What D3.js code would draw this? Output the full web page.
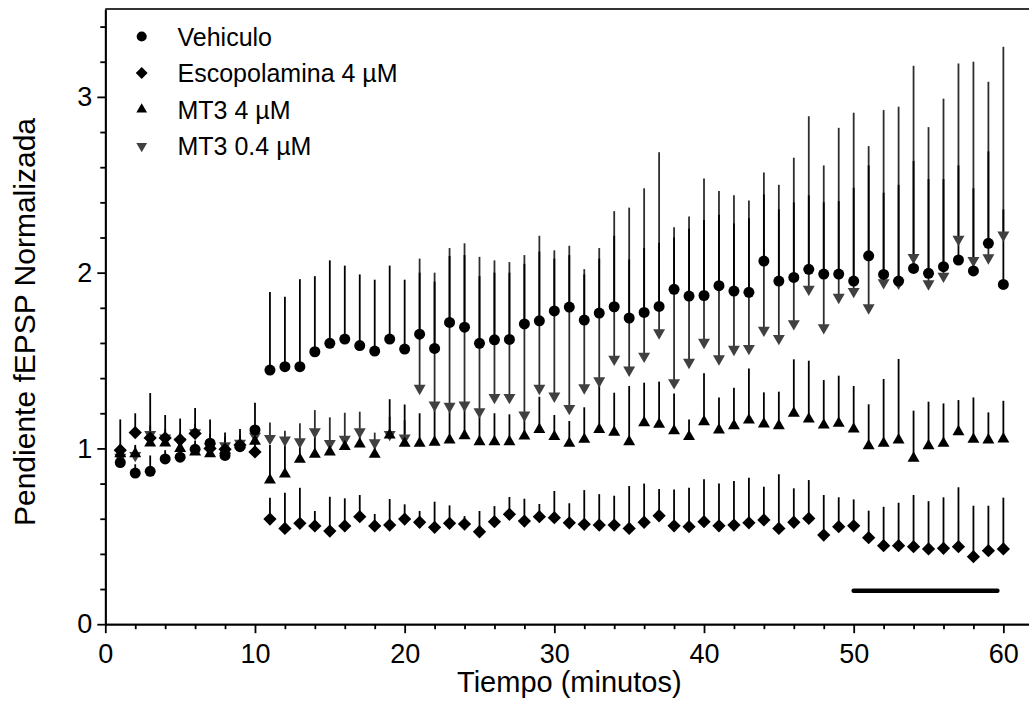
<!DOCTYPE html>
<html>
<head>
<meta charset="utf-8">
<script src="https://cdn.jsdelivr.net/npm/d3@7"></script>
<style>
	body { margin: 0; background: #fff; }
	svg { display: block; font-family: "Liberation Sans", Arial, sans-serif; }
</style>
</head>
<body>
<div id="chart"></div>
<script>

// minutes
let tiempo = [1,2,3,4,5,6,7,8,9,10,11,12,13,14,15,16,17,18,19,20,
	21,22,23,24,25,26,27,28,29,30,31,32,33,34,35,36,37,38,39,40,
	41,42,43,44,45,46,47,48,49,50,51,52,53,54,55,56,57,58,59,60];

let vehiculo = [0.92,0.86,0.87,0.94,0.95,0.995,1.03,0.96,1.01,1.105,
	1.446,1.465,1.465,1.55,1.598,1.622,1.585,1.554,1.622,1.565,
	1.65,1.569,1.717,1.69,1.598,1.618,1.62,1.708,1.726,1.782,
	1.804,1.73,1.77,1.806,1.742,1.774,1.808,1.905,1.867,1.87,
	1.926,1.895,1.888,2.066,1.952,1.973,2.019,1.992,1.992,1.952,
	2.096,1.99,1.952,2.024,1.996,2.034,2.072,2.01,2.167,1.933];
let vehiculoSem = [0.05,0.05,0.09,0.05,0.05,0.05,0.05,0.04,0.04,0.155,
	0.444,0.398,0.498,0.43,0.472,0.418,0.405,0.406,0.418,0.395,
	0.35,0.38,0.378,0.41,0.382,0.382,0.38,0.342,0.394,0.298,
	0.296,0.26,0.31,0.404,0.333,0.366,0.362,0.295,0.383,0.43,
	0.404,0.385,0.422,0.379,0.408,0.427,0.421,0.408,0.415,0.531,
	0.514,0.465,0.548,0.611,0.536,0.498,0.538,0.47,0.523,0.427];

let escopolamina = [0.99,1.09,1.06,1.06,1.05,1.085,1.0,0.995,1.02,0.98,
	0.598,0.545,0.574,0.559,0.53,0.559,0.612,0.559,0.564,0.598,
	0.58,0.551,0.574,0.57,0.526,0.583,0.625,0.587,0.612,0.606,
	0.577,0.568,0.564,0.564,0.545,0.58,0.617,0.56,0.555,0.583,
	0.56,0.564,0.577,0.593,0.545,0.58,0.602,0.507,0.555,0.56,
	0.492,0.447,0.447,0.441,0.428,0.432,0.441,0.384,0.418,0.428];
let escopolaminaSem = [0.175,0.11,0.255,0.13,0.12,0.145,0.165,0.095,0.09,0.1,
	0.122,0.203,0.202,0.085,0.195,0.157,0.123,0.068,0.148,0.084,
	0.064,0.146,0.102,0.045,0.118,0.089,0.099,0.127,0.072,0.152,
	0.111,0.195,0.176,0.167,0.241,0.22,0.152,0.207,0.221,0.241,
	0.24,0.251,0.256,0.189,0.308,0.193,0.218,0.228,0.167,0.15,
	0.154,0.221,0.244,0.294,0.272,0.29,0.338,0.29,0.256,0.292];

let mt3Alto = [0.97,0.97,1.03,1.03,1.0,0.98,0.97,0.99,1.02,1.04,
	0.82,0.854,0.938,0.966,0.98,1.01,1.025,0.966,1.076,1.029,
	1.029,1.035,1.048,1.072,1.038,1.038,1.038,1.07,1.108,1.067,
	1.029,1.052,1.108,1.092,1.038,1.146,1.137,1.10,1.067,1.152,
	1.105,1.129,1.161,1.139,1.129,1.20,1.167,1.133,1.143,1.11,
	1.015,1.029,1.048,0.944,1.015,1.029,1.095,1.052,1.048,1.054];
let mt3AltoSem = [0.05,0.05,0.05,0.05,0.05,0.05,0.05,0.05,0.05,0.05,
	0.2,0.18,0.1,0.13,0.05,0.05,0.07,0.07,0.204,0.221,
	0.171,0.205,0.172,0.168,0.162,0.162,0.156,0.11,0.186,0.123,
	0.127,0.182,0.262,0.225,0.317,0.228,0.243,0.213,0.098,0.275,
	0.185,0.216,0.294,0.18,0.194,0.307,0.332,0.256,0.271,0.245,
	0.236,0.366,0.461,0.271,0.251,0.227,0.18,0.238,0.157,0.217];

let mt3Bajo = [0.95,0.96,1.08,1.06,1.04,1.09,1.01,1.015,1.03,1.07,
	1.057,1.048,1.038,1.095,1.029,1.052,1.095,1.032,1.08,1.06,
	1.342,1.247,1.24,1.247,1.209,1.29,1.29,1.19,1.342,1.298,
	1.228,1.345,1.385,1.508,1.446,1.525,1.658,1.374,1.49,1.604,
	1.51,1.564,1.569,1.673,1.626,1.71,1.906,1.687,1.86,1.893,
	1.80,1.943,1.94,2.087,1.937,1.98,2.19,2.07,2.085,2.214];
let mt3BajoSem = [0.05,0.05,0.05,0.05,0.05,0.05,0.05,0.05,0.05,0.05,
	0.091,0.052,0.105,0.123,0.148,0.151,0.114,0.058,0.1,0.1,
	0.738,0.753,0.9,0.92,0.881,0.78,0.77,0.91,0.868,0.829,
	0.925,0.675,0.755,0.842,0.924,0.955,1.027,0.884,0.83,0.932,
	0.954,0.876,0.841,0.897,0.874,0.944,0.984,0.923,0.964,1.017,
	0.92,0.982,1.004,1.09,0.891,1.01,1.0,1.13,1.001,1.071];

let seriesNames = ['Vehiculo', 'Escopolamina 4 \u00b5M', 'MT3 4 \u00b5M', 'MT3 0.4 \u00b5M'];

let xTicks = [0, 10, 20, 30, 40, 50, 60];
let xMinor = [2,4,6,8,12,14,16,18,22,24,26,28,32,34,36,38,42,44,46,48,52,54,56,58];
let yTicks = [0, 1, 2, 3];
let yMinor = [0.2,0.4,0.6,0.8,1.2,1.4,1.6,1.8,2.2,2.4,2.6,2.8,3.2,3.4];

// bar under the last ten minutes
let barRange = [50, 59.6];
let barLevel = 0.19;

let width = 1029, height = 706;

let x = d3.scaleLinear().domain([0, 62]).range([105.3, 1033.3]);
let y = d3.scaleLinear().domain([0, 3.5]).range([624.2, 9]);

let svg = d3.select('#chart').append('svg')
	.attr('width', width)
	.attr('height', height);

let diamond = d3.symbol().type(d3.symbolSquare).size(88);
let circle = d3.symbol().type(d3.symbolCircle).size(95);
let tri = d3.symbol().type(d3.symbolTriangle).size(62);

let series = [
	{ name: seriesNames[0], mean: vehiculo, sem: vehiculoSem, color: '#000000', bar: '#000000', sym: circle, rot: 0 },
	{ name: seriesNames[1], mean: escopolamina, sem: escopolaminaSem, color: '#000000', bar: '#000000', sym: diamond, rot: 45 },
	{ name: seriesNames[2], mean: mt3Alto, sem: mt3AltoSem, color: '#000000', bar: '#000000', sym: tri, rot: 0 },
	{ name: seriesNames[3], mean: mt3Bajo, sem: mt3BajoSem, color: '#404040', bar: '#2e2e2e', sym: tri, rot: 180 }
];

// gray series goes underneath
let drawOrder = [series[3], series[0], series[1], series[2]];

// error bars (upper only)
for(let s of drawOrder)
{
	svg.append('g').selectAll('line')
		.data(tiempo)
		.enter()
		.append('line')
		.attr('x1', (d) => x(d))
		.attr('x2', (d) => x(d))
		.attr('y1', (d,i) => y(s.mean[i]))
		.attr('y2', (d,i) => y(s.mean[i] + s.sem[i]))
		.attr('stroke', s.bar)
		.attr('stroke-width', 1.8);
}

for(let s of drawOrder)
{
	svg.append('g').selectAll('path')
		.data(tiempo)
		.enter()
		.append('path')
		.attr('d', s.sym)
		.attr('transform', (d,i) => `translate(${x(d)},${y(s.mean[i])}) rotate(${s.rot})`)
		.attr('fill', s.color);
}

// horizontal bar
svg.append('line')
	.attr('x1', x(barRange[0]))
	.attr('x2', x(barRange[1]))
	.attr('y1', y(barLevel))
	.attr('y2', y(barLevel))
	.attr('stroke', '#000')
	.attr('stroke-width', 4.5)
	.attr('stroke-linecap', 'round');

// axes
let xAxis = d3.axisBottom(x).tickValues(xTicks).tickSize(9).tickSizeOuter(0).tickPadding(10.5).tickFormat(d3.format('d'));
let xAxisMinor = d3.axisBottom(x).tickValues(xMinor).tickSize(5).tickSizeOuter(0).tickFormat('');
let yAxis = d3.axisLeft(y).tickValues(yTicks).tickSize(8).tickSizeOuter(0).tickPadding(5).tickFormat(d3.format('d'));
let yAxisMinor = d3.axisLeft(y).tickValues(yMinor).tickSize(5).tickSizeOuter(0).tickFormat('');

svg.append('g').attr('transform', `translate(0,${y(0)})`).call(xAxisMinor);
let gx = svg.append('g').attr('transform', `translate(0,${y(0)})`).call(xAxis);
svg.append('g').attr('transform', `translate(${x(0)},0)`).call(yAxisMinor);
let gy = svg.append('g').attr('transform', `translate(${x(0)},0)`).call(yAxis);

svg.selectAll('.domain, .tick line')
	.attr('stroke', '#000')
	.attr('stroke-width', 1.8);

gx.selectAll('text').attr('font-size', 27).attr('fill', '#000').attr('font-family', 'Liberation Sans, Arial, sans-serif');
gy.selectAll('text').attr('font-size', 27).attr('fill', '#000').attr('font-family', 'Liberation Sans, Arial, sans-serif');

// top frame line
svg.append('line')
	.attr('x1', x(0))
	.attr('x2', width)
	.attr('y1', y(3.5))
	.attr('y2', y(3.5))
	.attr('stroke', '#333')
	.attr('stroke-width', 2);

// axis titles
svg.append('text')
	.attr('x', (x.range()[0] + x.range()[1]) / 2)
	.attr('y', 692)
	.attr('text-anchor', 'middle')
	.attr('font-size', 29)
	.text('Tiempo (minutos)');

svg.append('text')
	.attr('transform', 'translate(35,322) rotate(-90)')
	.attr('text-anchor', 'middle')
	.attr('font-size', 30)
	.text('Pendiente fEPSP Normalizada');

// legend
let legend = svg.append('g')
	.selectAll('g')
	.data(series)
	.enter()
	.append('g')
	.attr('transform', (d,i) => `translate(0,${45.5 + i * 36.5})`);

legend.append('path')
	.attr('d', (d) => d.sym.size(d.sym === circle ? 80 : (d.sym === diamond ? 70 : 50))())
	.attr('transform', (d) => `translate(141.7,-9) rotate(${d.rot})`)
	.attr('fill', (d) => d.color);

legend.append('text')
	.attr('x', 177.5)
	.attr('y', 0)
	.attr('font-size', 25)
	.text((d) => d.name);

</script>
</body>
</html>
